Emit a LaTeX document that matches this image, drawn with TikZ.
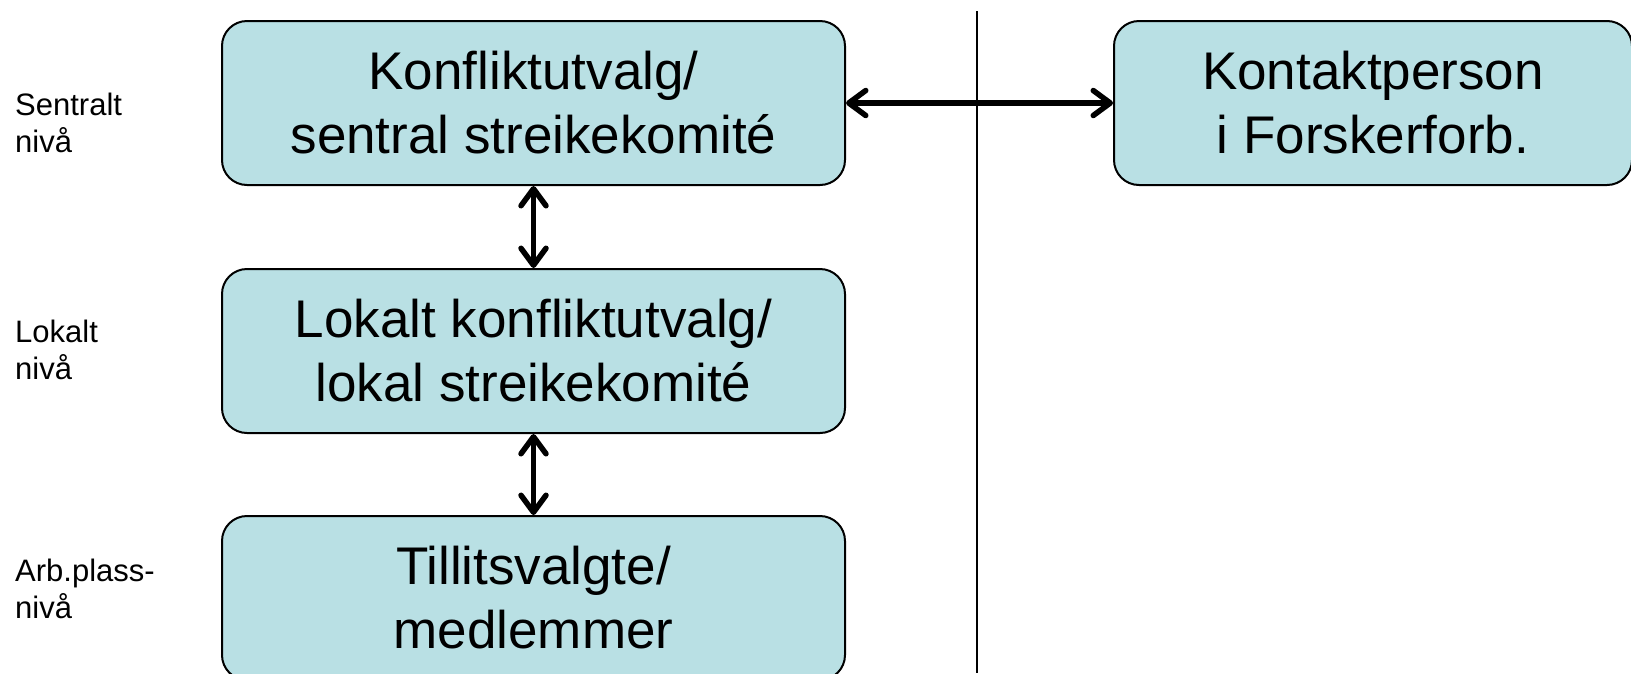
\documentclass[tikz,border=0pt]{standalone}
\usepackage{fontspec}
\setmainfont{Liberation Sans}
\usetikzlibrary{positioning, arrows.meta}
\definecolor{boxfill}{RGB}{185,224,228}
\tikzset{
level/.style={draw, line width=2pt, fill=boxfill, rounded corners=25pt, minimum width=623pt, minimum height=164pt, inner sep=0pt, align=center, font=\fontsize{53}{64}\selectfont}, % the boxes
lvltext/.style={anchor=base west, align=left, inner sep=0pt, font=\fontsize{31}{37}\selectfont}, % level names on the left
link/.style={line width=5.5pt, >={Straight Barb[length=17pt, width=25pt, round]}, <->}, % double arrows
}

\begin{document}
\begin{tikzpicture}[x=1pt, y=-1pt]
    \useasboundingbox (0,0) rectangle (1631,673);
    \node[level] (central) at (533.5,103) {Konfliktutvalg/\\sentral streikekomité};
    \node[level, below=82pt of central] (lokal) {Lokalt konfliktutvalg/\\lokal streikekomité};
    \node[level, below=81pt of lokal] (arb) {Tillitsvalgte/\\medlemmer};
    \node[level, minimum width=518pt, right=267pt of central] (kontakt) {Kontaktperson\\i Forskerforb.};
    % base anchor sits on the last line
    \node[lvltext] (sentralt) at (15,152) {Sentralt\\nivå};
    \node[lvltext] (lokalt) at (15,379) {Lokalt\\nivå};
    \node[lvltext] (arbplass) at (15,618) {Arb.plass-\\nivå};
    \coordinate (sep top) at (977,11);
    \coordinate (sep bottom) at (977,673);
    \draw[line width=2pt] (sep top) -- (sep bottom);
    \draw[link] (central) -- (kontakt);
    \draw[link] (central) -- (lokal);
    \draw[link] (lokal) -- (arb);
\end{tikzpicture}
\end{document}
